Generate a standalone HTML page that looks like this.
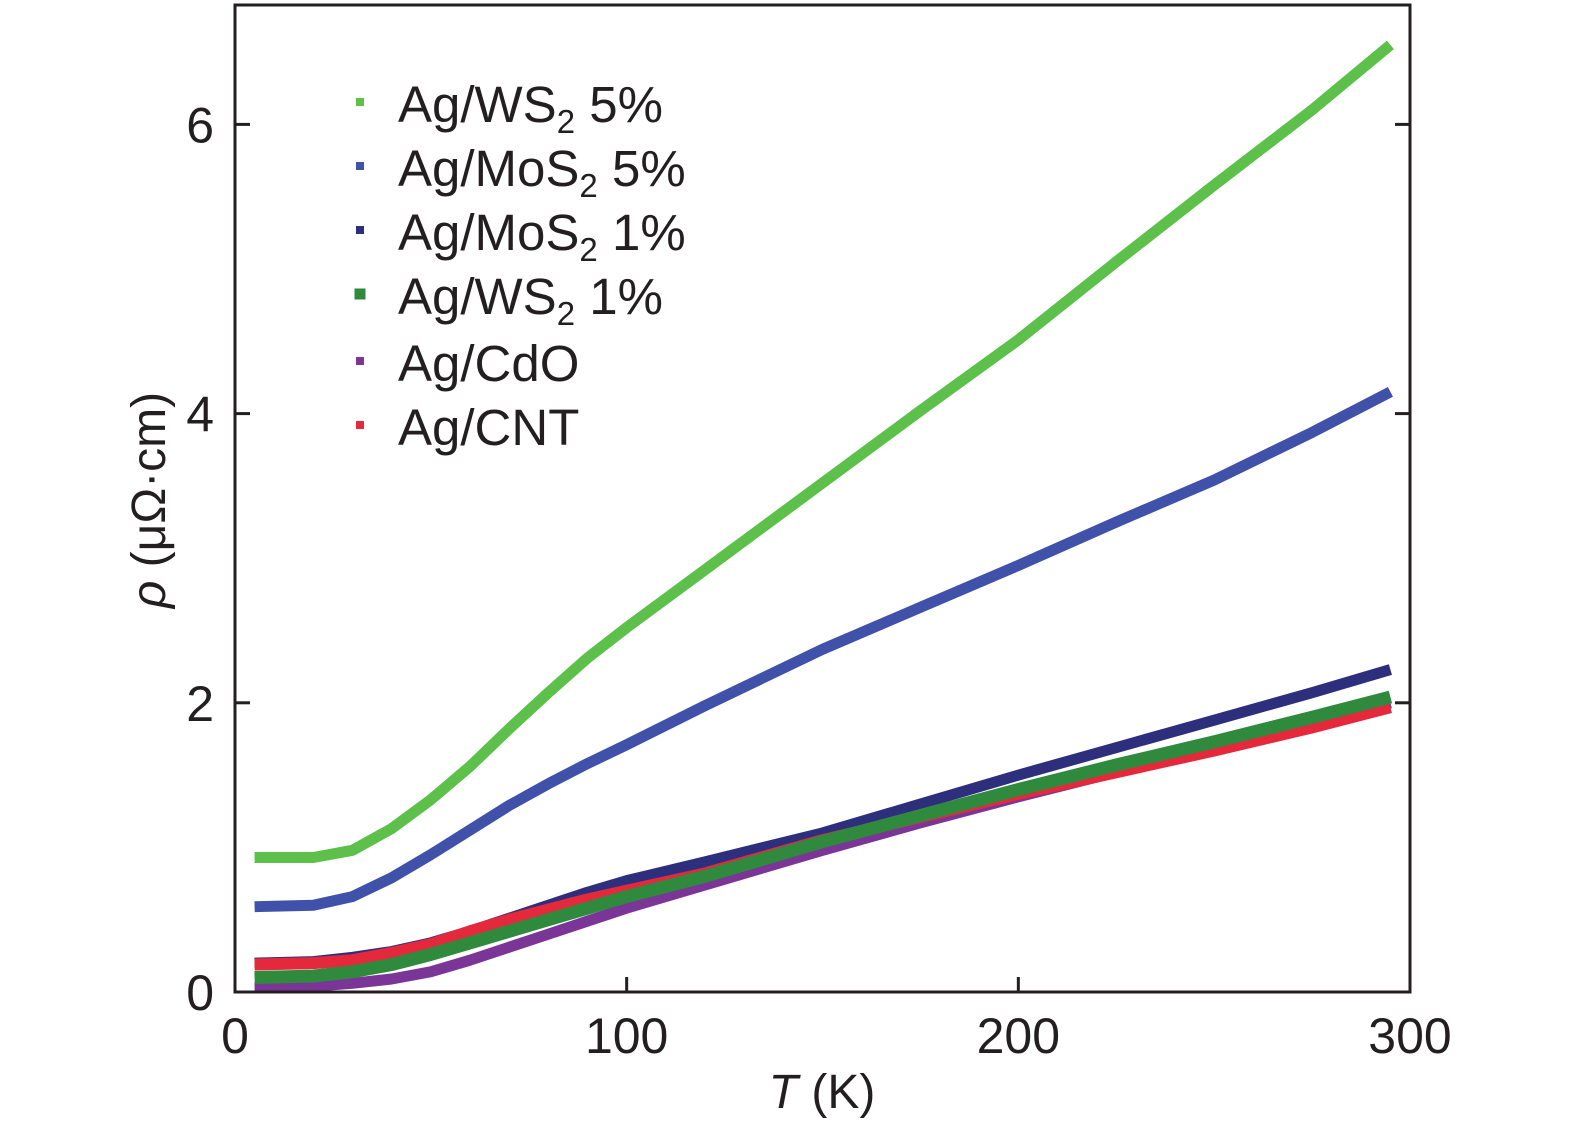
<!DOCTYPE html>
<html><head><meta charset="utf-8"><style>
html,body{margin:0;padding:0;background:#fff}
svg{display:block}
text{font-family:"Liberation Sans Narrow","Liberation Sans",sans-serif;fill:#231f20}
</style></head><body>
<svg id="chart" width="1575" height="1132" viewBox="0 0 1575 1132" xmlns="http://www.w3.org/2000/svg">
<g id="series"></g>
<rect x="235" y="5" width="1175" height="987" fill="none" stroke="#231f20" stroke-width="3"/>
<g id="ticks"></g>
<text x="822" y="1108" font-size="48" text-anchor="middle"><tspan font-style="italic">T</tspan> (K)</text>
<text transform="translate(165,500) rotate(-90)" font-size="48" text-anchor="middle"><tspan font-style="italic">ρ</tspan> (μΩ·cm)</text>
<g id="legend"></g>
</svg>
<script>
const NS="http://www.w3.org/2000/svg";
const temps=[5,20,30,40,50,60,70,80,90,100,120,150,175,200,225,250,275,295];
const ws2_5=[0.93,0.93,0.98,1.13,1.33,1.56,1.82,2.07,2.31,2.52,2.92,3.52,4.02,4.51,5.05,5.58,6.10,6.55];
const mos2_5=[0.59,0.60,0.66,0.79,0.95,1.12,1.29,1.44,1.58,1.71,1.98,2.37,2.66,2.95,3.25,3.54,3.87,4.15];
const mos2_1=[0.20,0.21,0.24,0.28,0.34,0.42,0.51,0.60,0.69,0.77,0.90,1.10,1.30,1.50,1.69,1.88,2.07,2.23];
const ws2_1=[0.10,0.11,0.14,0.19,0.26,0.34,0.42,0.50,0.58,0.66,0.80,1.04,1.22,1.40,1.57,1.73,1.90,2.04];
const cdo=[0.03,0.04,0.06,0.09,0.14,0.22,0.31,0.40,0.49,0.58,0.74,0.98,1.17,1.35,1.52,1.68,1.85,2.00];
const cnt=[0.19,0.20,0.22,0.27,0.33,0.42,0.50,0.57,0.64,0.70,0.82,1.05,1.21,1.37,1.52,1.67,1.83,1.97];
const seriesNames=["Ag/WS2 5%","Ag/MoS2 5%","Ag/MoS2 1%","Ag/WS2 1%","Ag/CdO","Ag/CNT"];
const xTicks=[0,100,200,300];
const yTicks=[0,2,4,6];
const X=t=>235+t*(1175/300);
const Y=v=>992-v*144.6;
const series=[
 {n:"ws2-5",v:ws2_5,c:"#5cc04a",w:11},
 {n:"mos2-5",v:mos2_5,c:"#3f51a8",w:11},
 {n:"mos2-1",v:mos2_1,c:"#2e2f7c",w:11},
 {n:"cdo",v:cdo,c:"#7a3597",w:11},
 {n:"cnt",v:cnt,c:"#e3293b",w:12},
 {n:"ws2-1",v:ws2_1,c:"#2f8a3e",w:13},
];
const sg=document.getElementById('series');
series.forEach(s=>{
 const p=document.createElementNS(NS,'polyline');
 p.setAttribute('points',temps.map((t,i)=>X(t)+','+Y(s.v[i])).join(' '));
 p.setAttribute('fill','none');p.setAttribute('stroke',s.c);p.setAttribute('stroke-width',s.w);
 p.setAttribute('stroke-linejoin','round');
 
 
 sg.appendChild(p);
});
const tg=document.getElementById('ticks');
xTicks.forEach(t=>{
 const l=document.createElementNS(NS,'line');
 l.setAttribute('x1',X(t));l.setAttribute('x2',X(t));l.setAttribute('y1',992);l.setAttribute('y2',977);
 l.setAttribute('stroke','#231f20');l.setAttribute('stroke-width',3);
 
 
 tg.appendChild(l);
 const tx=document.createElementNS(NS,'text');
 tx.setAttribute('x',X(t));tx.setAttribute('y',1053);tx.setAttribute('font-size',50);tx.setAttribute('text-anchor','middle');
 tx.textContent=t;
 
 
 tg.appendChild(tx);
});
yTicks.forEach(v=>{
 [[235,250],[1395,1410]].forEach(([a,b])=>{
  const l=document.createElementNS(NS,'line');
  l.setAttribute('x1',a);l.setAttribute('x2',b);l.setAttribute('y1',Y(v));l.setAttribute('y2',Y(v));
  l.setAttribute('stroke','#231f20');l.setAttribute('stroke-width',3);
  
  
  tg.appendChild(l);
 });
 const tx=document.createElementNS(NS,'text');
 tx.setAttribute('x',214);tx.setAttribute('y',Y(v)+18);tx.setAttribute('font-size',50);tx.setAttribute('text-anchor','end');
 tx.textContent=v;
 
 
 tg.appendChild(tx);
});
const lg=document.getElementById('legend');
const legColors=["#5cc04a","#3f51a8","#2e2f7c","#2f8a3e","#7a3597","#e3293b"];
const legY=[122,186,250,314,381,445];
seriesNames.forEach((name,i)=>{
 const g=document.createElementNS(NS,'g');
 
 
 const m=document.createElementNS(NS,'rect');
 const sz=i===3?11:8;
 m.setAttribute('x',360-sz/2);m.setAttribute('y',legY[i]-20-sz/2);m.setAttribute('width',sz);m.setAttribute('height',sz);
 m.setAttribute('fill',legColors[i]);
 g.appendChild(m);
 const t=document.createElementNS(NS,'text');
 t.setAttribute('x',398);t.setAttribute('y',legY[i]);t.setAttribute('font-size',51);
 const mm=name.match(/^(.*S)2(.*)$/);
 if(mm){
  t.appendChild(document.createTextNode(mm[1]));
  const sub=document.createElementNS(NS,'tspan');
  sub.setAttribute('font-size',33);sub.setAttribute('dy',11);sub.textContent='2';
  t.appendChild(sub);
  const rest=document.createElementNS(NS,'tspan');
  rest.setAttribute('dy',-11);rest.textContent=mm[2];
  t.appendChild(rest);
 } else t.textContent=name;
 g.appendChild(t);
 lg.appendChild(g);
});
</script>
</body></html>
